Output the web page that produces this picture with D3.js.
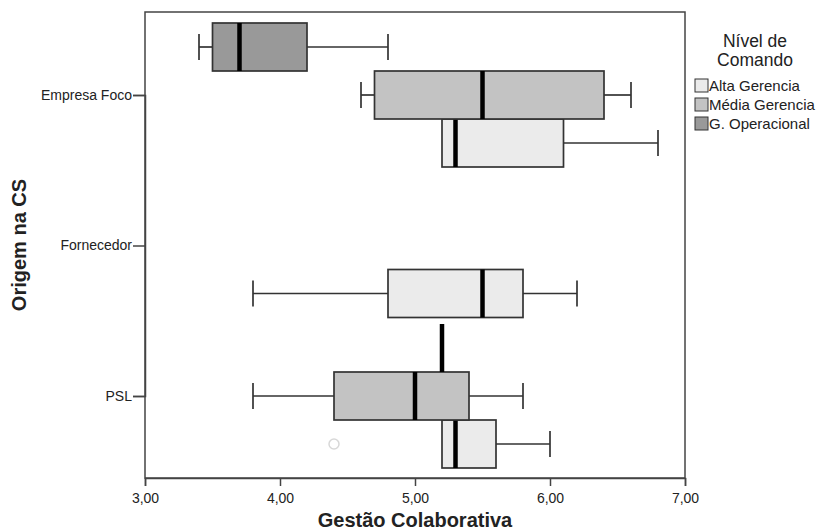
<!DOCTYPE html>
<html>
<head>
<meta charset="utf-8">
<script src="https://cdn.jsdelivr.net/npm/d3@7"></script>
<style>
  body { margin: 0; background: #fff; }
  svg text { font-family: "Liberation Sans", Arial, sans-serif; fill: #222; }
</style>
</head>
<body>
<svg id="chart" width="818" height="532"></svg>
<script>
// categories and levels
const origens = ["Empresa Foco", "Fornecedor", "PSL"];
const niveis = ["Alta Gerencia", "Média Gerencia", "G. Operacional"];
const xTicks = [3, 4, 5, 6, 7];

// [min, q1, median, q3, max] per origem (null = no data)
const altaStats  = [[5.2, 5.2, 5.3, 6.1, 6.8], [3.8, 4.8, 5.5, 5.8, 6.2], [5.2, 5.2, 5.3, 5.6, 6.0]];
const mediaStats = [[4.6, 4.7, 5.5, 6.4, 6.6], null, [3.8, 4.4, 5.0, 5.4, 5.8]];
const operStats  = [[3.4, 3.5, 3.7, 4.2, 4.8], null, [5.2, 5.2, 5.2, 5.2, 5.2]];

// outlier points
const outOrigem = ["PSL"];
const outNivel = ["Alta Gerencia"];
const outValue = [4.4];

const fills = ["#ebebeb", "#c3c3c3", "#999999"];

const svg = d3.select("svg#chart");
const margin = {top: 12, right: 133, bottom: 54, left: 145};
const width = 818 - margin.left - margin.right;
const height = 532 - margin.top - margin.bottom;

const g = svg.append("g").attr("transform", `translate(${margin.left},${margin.top})`);

const x = d3.scaleLinear().domain([3, 7]).range([0, width]);
const y = d3.scalePoint().domain(origens).range([83, 384]);
// sub-position of each level inside a group (top to bottom: G.Op, Média, Alta)
const sub = d3.scaleBand().domain(["G. Operacional", "Média Gerencia", "Alta Gerencia"]).range([-72, 72]);
const boxH = sub.bandwidth();

const allStats = [altaStats, mediaStats, operStats];
let boxes = [];
niveis.forEach((n, i) => {
  origens.forEach((o, j) => {
    const s = allStats[i][j];
    if (s) boxes.push({origem: o, nivel: n, fill: fills[i], min: s[0], q1: s[1], med: s[2], q3: s[3], max: s[4]});
  });
});

// frame
g.append("rect")
  .attr("width", width).attr("height", height)
  .attr("fill", "none").attr("stroke", "#444").attr("stroke-width", 1.5);

const boxG = g.selectAll("g.box").data(boxes).join("g")
  .attr("class", "box")
  .attr("transform", d => `translate(0,${y(d.origem) + sub(d.nivel)})`);

const capH = 26;
// whiskers, box, median
boxG.each(function(d) {
  const el = d3.select(this);
  const mid = boxH / 2;
  if (d.min < d.q1) {
    el.append("line").attr("x1", x(d.min)).attr("x2", x(d.q1)).attr("y1", mid).attr("y2", mid);
    el.append("line").attr("x1", x(d.min)).attr("x2", x(d.min)).attr("y1", mid - capH / 2).attr("y2", mid + capH / 2);
  }
  if (d.max > d.q3) {
    el.append("line").attr("x1", x(d.q3)).attr("x2", x(d.max)).attr("y1", mid).attr("y2", mid);
    el.append("line").attr("x1", x(d.max)).attr("x2", x(d.max)).attr("y1", mid - capH / 2).attr("y2", mid + capH / 2);
  }
  el.selectAll("line").attr("stroke", "#333").attr("stroke-width", 1.7);

  if (d.q3 > d.q1) {
    el.append("rect")
      .attr("x", x(d.q1)).attr("width", x(d.q3) - x(d.q1))
      .attr("y", 0).attr("height", boxH)
      .attr("fill", d.fill).attr("stroke", "#333").attr("stroke-width", 1.7);
  }
  el.append("line")
    .attr("x1", x(d.med)).attr("x2", x(d.med))
    .attr("y1", 0).attr("y2", boxH)
    .attr("stroke", "#000").attr("stroke-width", 4.5);
});

// outliers
g.selectAll("circle.out").data(outValue).join("circle")
  .attr("class", "out")
  .attr("cx", d => x(d))
  .attr("cy", (d, i) => y(outOrigem[i]) + sub(outNivel[i]) + boxH / 2)
  .attr("r", 5)
  .attr("fill", "#fff").attr("stroke", "#d8d8d8").attr("stroke-width", 1.5);

// axes
const xAxis = g.append("g")
  .attr("transform", `translate(0,${height})`)
  .call(d3.axisBottom(x).tickValues(xTicks).tickSize(8).tickPadding(7)
    .tickFormat(d => d3.format(".2f")(d).replace(".", ",")));
xAxis.select(".domain").attr("stroke", "#444").attr("stroke-width", 1.5);
xAxis.selectAll(".tick line").attr("stroke", "#444").attr("stroke-width", 1.5);
xAxis.selectAll("text").attr("font-size", 14).attr("fill", "#222")
  .attr("font-family", "Liberation Sans, Arial, sans-serif");

const yAxis = g.append("g")
  .call(d3.axisLeft(y).tickSize(12).tickPadding(1));
yAxis.select(".domain").attr("stroke", "#444").attr("stroke-width", 1.5);
yAxis.selectAll(".tick line").attr("stroke", "#444").attr("stroke-width", 1.5);
yAxis.selectAll("text").attr("font-size", 14).attr("fill", "#222")
  .attr("font-family", "Liberation Sans, Arial, sans-serif");

// axis titles
svg.append("text")
  .attr("x", margin.left + width / 2).attr("y", 527)
  .attr("text-anchor", "middle")
  .attr("font-size", 20).attr("font-weight", "bold")
  .text("Gestão Colaborativa");

svg.append("text")
  .attr("transform", `translate(26,${margin.top + height / 2}) rotate(-90)`)
  .attr("text-anchor", "middle")
  .attr("font-size", 20).attr("font-weight", "bold")
  .text("Origem na CS");

// legend
const legend = svg.append("g").attr("transform", "translate(695,0)");
legend.append("text").attr("x", 60).attr("y", 47).attr("text-anchor", "middle")
  .attr("font-size", 17.5).text("Nível de");
legend.append("text").attr("x", 60).attr("y", 66).attr("text-anchor", "middle")
  .attr("font-size", 17.5).text("Comando");

const items = legend.selectAll("g.item").data(niveis).join("g")
  .attr("class", "item")
  .attr("transform", (d, i) => `translate(0,${79 + i * 19})`);
items.append("rect")
  .attr("width", 13).attr("height", 13)
  .attr("fill", (d, i) => fills[i]).attr("stroke", "#333").attr("stroke-width", 1);
items.append("text")
  .attr("x", 14).attr("y", 12)
  .attr("font-size", 15)
  .text(d => d);
</script>
</body>
</html>
